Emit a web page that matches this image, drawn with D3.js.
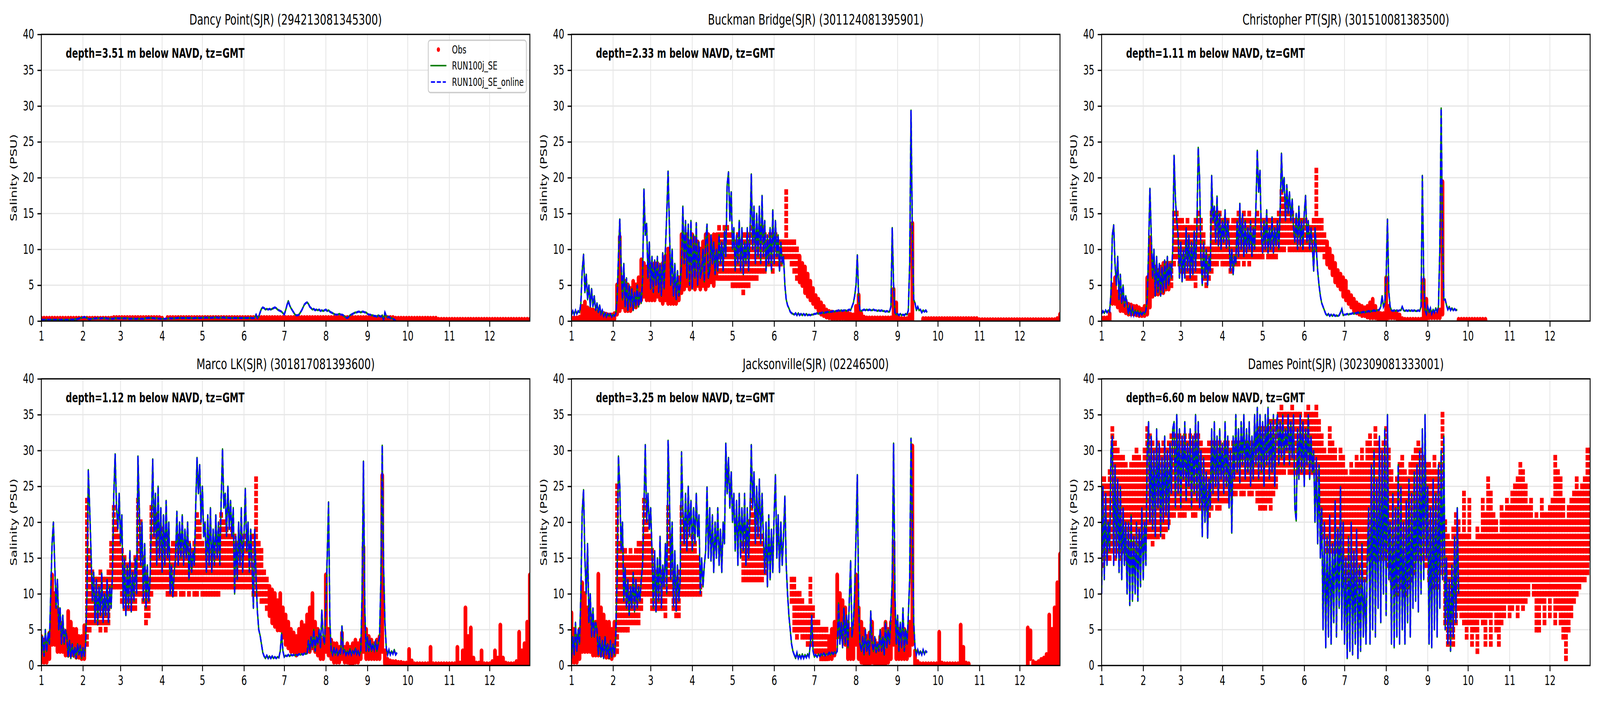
<!DOCTYPE html>
<html><head><meta charset="utf-8">
<script src="https://cdn.jsdelivr.net/npm/d3@7"></script>
<style>html,body{margin:0;padding:0;background:#fff;overflow:hidden}svg{display:block}</style>
</head><body><svg id="chart"></svg>
<script>
// ---------------- DATA ----------------
const stationTitles = ["Dancy Point(SJR) (294213081345300)","Buckman Bridge(SJR) (301124081395901)","Christopher PT(SJR) (301510081383500)",
  "Marco LK(SJR) (301817081393600)","Jacksonville(SJR) (02246500)","Dames Point(SJR) (302309081333001)"];
const depthLabels = ["depth=3.51 m below NAVD, tz=GMT","depth=2.33 m below NAVD, tz=GMT","depth=1.11 m below NAVD, tz=GMT",
  "depth=1.12 m below NAVD, tz=GMT","depth=3.25 m below NAVD, tz=GMT","depth=6.60 m below NAVD, tz=GMT"];
const monthLabels = ["1","2","3","4","5","6","7","8","9","10","11","12"];
const yTickValues = [0,5,10,15,20,25,30,35,40];
const legendLabels = ["Obs","RUN100j_SE","RUN100j_SE_online"];
const yLabel = "Salinity (PSU)";
const year = 2019;      // x axis: day of year, Jan 1 .. Dec 31
const obsStepDays = 2;  // obs envelope sampled every 2 days
// day ranges where the observations are recorded at whole-PSU resolution (rows of dots)
const obsIntegerPeriods = [[],[[110,168]],[[52,166]],[[34,168]],[[34,100],[126,190]],[[0,364]]];

// model salinity, daily from Jan 1 (alternating tidal lows/highs)
const model_dancy = [
0.15,0.2,0.15,0.2,0.15,0.2,0.15,0.2,0.15,0.2,
0.15,0.2,0.15,0.2,0.15,0.2,0.15,0.2,0.15,0.2,
0.15,0.2,0.2,0.2,0.2,0.25,0.25,0.3,0.35,0.4,
0.45,0.5,0.55,0.5,0.4,0.3,0.25,0.3,0.3,0.35,
0.35,0.4,0.35,0.4,0.35,0.4,0.4,0.35,0.4,0.35,
0.35,0.3,0.35,0.3,0.35,0.4,0.35,0.4,0.35,0.4,
0.4,0.35,0.4,0.35,0.4,0.35,0.3,0.35,0.3,0.35,
0.3,0.3,0.35,0.3,0.3,0.35,0.3,0.35,0.4,0.4,
0.45,0.4,0.45,0.4,0.4,0.35,0.4,0.35,0.35,0.3,
0.3,0.3,0.3,0.35,0.35,0.35,0.4,0.35,0.4,0.35,
0.4,0.4,0.45,0.4,0.45,0.4,0.45,0.4,0.4,0.45,
0.4,0.45,0.4,0.4,0.4,0.45,0.4,0.45,0.4,0.45,
0.45,0.5,0.45,0.5,0.45,0.5,0.45,0.45,0.5,0.45,
0.5,0.5,0.45,0.5,0.45,0.5,0.5,0.45,0.5,0.45,
0.45,0.4,0.45,0.4,0.45,0.4,0.45,0.4,0.45,0.4,
0.45,0.4,0.45,0.4,0.45,0.4,0.45,0.4,0.4,0.5,
0.9,0.4,0.6,1.2,1.7,1.9,1.8,1.6,1.7,1.6,
1.7,1.6,1.7,1.8,1.9,1.8,1.6,1.5,1.4,1.3,
1.1,0.9,1.5,2.2,2.8,2.2,1.8,1.5,1.2,0.9,
0.8,0.8,0.9,1.2,1.5,1.9,2.3,2.5,2.6,2.4,
2.0,1.8,1.6,1.7,1.5,1.6,1.5,1.6,1.4,1.5,
1.4,1.5,1.6,1.4,1.5,1.3,1.2,1.1,1.0,0.9,
0.9,0.9,1.0,0.9,0.9,0.8,0.6,0.5,0.4,0.6,
0.8,0.9,1.0,1.1,1.2,1.2,1.3,1.3,1.2,1.3,
1.3,1.2,1.2,1.0,0.9,0.9,0.8,0.8,0.7,0.7,
0.6,0.8,0.7,0.6,0.8,0.1,1.2,0.7,0.5,0.6,
0.4,0.4,0.3,0.2,0.05];
const model_buckman = [
0.8,1.4,0.9,1.5,1.0,1.4,1.2,2.5,7.0,9.3,
4.0,6.5,3.0,5.0,2.0,4.5,2.0,3.5,1.5,2.5,
1.2,2.2,1.0,1.5,0.7,1.1,0.6,1.0,0.7,1.0,
0.6,0.9,0.7,1.0,3.0,9.0,14.2,8.0,3.0,8.0,
2.0,6.0,1.5,5.0,2.0,4.5,1.5,4.0,2.0,5.0,
2.0,4.0,2.5,6.0,18.4,12.0,13.6,6.0,11.0,4.5,
9.0,4.0,8.5,5.0,9.0,4.0,8.0,3.5,9.5,4.5,
10.0,15.0,20.9,13.0,5.0,10.0,3.5,8.0,3.0,7.0,
3.5,5.0,8.0,16.0,8.0,14.0,6.0,13.5,5.0,14.0,
4.5,12.0,6.0,13.7,5.0,11.0,6.0,7.0,10.0,5.5,
11.0,13.5,6.0,7.0,12.0,8.0,11.0,6.5,10.0,7.0,
12.0,8.0,11.0,7.0,12.5,9.0,19.0,20.8,14.0,18.0,
10.0,13.0,7.0,12.0,8.0,14.0,7.0,13.0,6.5,11.0,
8.0,13.0,7.0,12.0,20.5,10.0,16.0,8.0,15.0,9.0,
16.0,8.0,17.5,9.0,14.0,7.0,12.0,8.0,13.0,7.0,
15.5,8.0,14.0,9.0,12.0,7.0,11.0,8.0,9.0,5.0,
3.0,2.2,1.8,1.3,1.1,1.0,0.9,1.1,0.8,1.1,
0.8,1.0,0.8,1.0,0.8,1.0,0.8,0.9,0.8,0.9,
0.9,1.0,1.0,1.1,1.0,1.1,1.1,1.2,1.1,1.2,
1.2,1.3,1.2,1.3,1.3,1.4,1.3,1.4,1.4,1.5,
1.4,1.5,1.4,1.5,1.5,1.4,1.5,1.6,1.5,2.0,
2.5,3.5,5.0,9.2,3.0,1.5,1.4,1.5,1.6,1.5,
1.6,1.5,1.6,1.5,1.5,1.6,1.5,1.5,1.4,1.5,
1.4,1.5,1.4,1.4,1.3,1.4,1.3,1.3,2.0,13.0,
5.0,1.2,0.9,1.0,0.8,1.0,0.8,0.9,0.8,1.0,
0.9,1.5,8.0,29.4,12.0,3.0,2.5,1.5,2.0,1.5,
1.6,1.2,1.5,1.3,1.5,1.2];
const model_christopher = [
1.0,1.4,1.1,1.5,1.2,1.5,1.3,4.0,12.0,13.4,
8.0,5.0,9.0,3.0,6.5,2.5,5.0,2.0,3.5,2.5,
1.0,2.0,0.9,1.8,0.8,1.5,0.9,1.4,0.8,1.3,
0.9,1.2,1.0,1.5,3.0,10.0,18.5,12.0,6.0,10.0,
3.5,9.0,4.0,8.0,3.5,7.5,4.0,8.5,4.5,9.0,
5.0,8.0,6.0,10.0,23.1,17.0,14.0,12.0,6.0,11.0,
5.5,10.0,6.0,13.0,7.0,12.0,6.0,11.0,6.5,12.5,
7.0,13.0,24.2,20.0,9.0,5.0,11.0,6.0,10.0,5.0,
9.0,7.0,20.3,14.0,16.0,11.0,17.4,10.5,15.0,10.0,
14.0,11.0,15.5,10.2,14.0,11.0,7.0,10.0,6.5,9.0,
8.0,14.0,9.0,16.4,10.0,15.0,9.0,14.0,9.5,13.0,
10.0,14.0,9.0,13.0,10.0,16.0,23.8,18.0,21.0,12.0,
9.5,14.0,10.0,15.5,9.5,13.0,10.0,14.5,9.5,13.0,
10.5,14.0,10.0,15.0,23.4,18.0,20.0,14.0,19.0,15.0,
18.0,14.0,17.0,13.0,11.0,15.0,10.0,16.0,10.5,14.0,
10.0,15.0,17.5,11.0,14.0,10.0,13.0,10.5,7.0,13.0,
10.0,7.0,5.0,3.5,2.5,2.0,1.5,1.0,0.8,1.0,
0.7,0.9,0.7,0.9,0.7,0.8,0.7,0.8,1.2,1.7,
0.8,0.9,0.9,1.0,0.9,1.0,1.0,1.1,1.0,1.1,
1.1,1.2,1.1,1.2,1.2,1.3,1.2,1.3,1.3,1.4,
1.3,1.4,1.4,1.5,1.4,1.5,1.5,1.6,2.0,3.5,
2.0,2.5,6.0,14.2,4.0,2.0,1.5,1.4,1.5,1.4,
1.5,1.4,1.5,1.5,2.0,1.5,1.4,1.5,1.4,1.5,
1.4,1.5,1.4,1.5,1.4,1.4,1.5,1.4,2.0,20.3,
6.0,1.5,1.0,2.0,1.2,1.8,1.0,1.6,1.2,1.8,
1.3,2.0,10.0,29.7,12.0,3.0,3.0,2.2,1.6,2.0,
1.5,1.8,1.5,1.7,1.5,1.6];
const model_marco = [
1.5,4.0,1.3,5.0,2.0,4.5,3.0,10.0,17.0,20.0,
14.0,8.0,12.0,5.0,8.0,3.0,7.0,3.0,5.0,4.0,
1.2,3.5,1.0,3.0,1.2,2.5,1.0,3.0,1.5,2.8,
1.0,2.5,1.3,3.0,10.0,27.3,22.0,16.0,9.0,13.0,
6.0,12.0,5.7,11.0,7.0,12.9,6.0,10.0,7.0,12.0,
6.0,11.0,8.0,13.0,24.0,29.5,22.0,19.0,24.0,17.0,
21.0,8.0,15.0,7.0,14.0,8.0,16.0,7.5,13.0,9.0,
15.0,10.0,29.2,22.0,14.0,20.0,9.0,17.0,8.0,14.0,
9.0,12.0,20.0,28.8,18.0,24.0,14.0,25.0,15.0,22.0,
13.0,21.0,14.0,23.0,15.0,20.0,10.0,14.0,9.6,13.0,
15.0,21.5,14.0,20.0,15.0,21.0,14.0,19.0,15.0,20.0,
12.0,17.0,13.0,16.0,14.0,22.0,29.0,24.0,28.0,20.0,
25.0,18.0,20.0,13.0,21.0,14.0,22.0,13.0,19.0,14.0,
21.0,15.0,20.0,14.0,23.0,30.2,22.0,24.0,18.0,25.0,
19.0,23.0,18.0,22.0,10.0,18.0,12.0,20.0,14.0,22.0,
13.0,18.0,24.7,16.0,20.0,13.0,19.0,14.0,8.0,19.0,
12.0,7.5,5.0,4.2,3.0,1.8,1.3,1.0,1.4,1.0,
1.3,1.0,1.3,1.0,1.2,1.0,1.2,1.1,2.0,4.5,
2.0,1.2,1.4,1.3,1.5,1.3,1.5,1.4,1.5,1.4,
1.5,1.4,1.6,1.5,1.6,1.5,1.7,1.6,1.7,3.5,
2.0,4.0,2.5,5.0,2.0,4.0,3.0,5.0,2.5,7.7,
4.0,3.0,8.0,15.0,22.8,6.0,2.0,1.5,2.5,1.5,
2.2,1.5,2.0,1.6,5.5,1.8,2.2,1.5,2.0,1.6,
2.3,1.5,2.0,1.7,2.4,1.6,2.0,1.5,2.0,10.0,
28.5,8.0,2.0,4.0,2.0,3.5,2.0,3.0,2.2,3.5,
2.0,3.0,4.0,12.0,30.7,14.0,6.0,2.5,1.5,2.2,
1.5,2.0,1.6,2.2,1.5,1.8];
const model_jacksonville = [
1.0,4.0,1.5,6.0,2.0,5.0,3.0,10.0,21.5,24.5,
15.0,10.0,17.0,6.0,10.0,4.0,8.0,4.0,6.0,5.0,
1.5,4.0,1.2,3.5,1.0,4.0,1.5,3.0,1.0,3.5,
1.2,3.0,1.5,4.0,12.0,29.2,25.0,16.0,20.0,9.0,
13.6,8.0,12.0,7.0,11.0,8.0,13.0,7.5,12.0,8.0,
11.0,9.0,12.0,14.0,22.0,30.8,20.0,24.0,19.0,22.0,
16.0,8.0,16.0,7.5,15.0,9.0,18.0,8.0,14.0,11.0,
17.0,10.0,31.4,24.0,12.0,20.0,8.2,16.0,7.6,14.0,
9.0,12.0,29.8,22.0,17.0,24.0,16.0,25.0,18.0,23.0,
16.0,22.0,17.0,24.0,18.0,21.0,10.0,15.0,11.0,14.0,
16.0,24.9,15.0,22.0,14.6,21.0,13.0,20.0,15.0,22.0,
14.0,19.0,13.0,20.0,17.0,31.0,24.0,29.0,22.0,27.0,
20.0,24.0,16.0,23.0,14.0,24.0,15.0,22.0,16.0,24.0,
14.0,22.0,15.0,21.0,30.8,22.0,27.0,17.0,25.0,18.0,
26.0,17.0,24.0,18.0,12.9,20.0,11.0,21.0,12.0,19.0,
13.0,21.0,26.6,15.0,21.0,13.0,20.0,14.0,18.0,23.6,
14.0,10.0,7.0,5.0,3.0,2.0,1.5,1.0,1.8,1.0,
1.5,1.0,1.6,1.0,1.5,1.1,1.6,1.2,3.0,7.0,
2.0,1.2,1.5,1.2,1.6,1.3,1.6,1.4,1.7,1.4,
1.6,1.5,1.8,1.5,1.8,1.6,1.9,1.7,2.0,8.7,
3.0,6.0,2.5,8.0,3.0,7.0,2.5,9.0,14.6,4.0,
6.0,10.0,18.0,26.6,8.0,3.0,2.0,4.0,1.5,5.0,
2.0,3.5,1.5,7.6,3.0,2.0,4.0,1.8,3.0,2.0,
5.0,2.0,4.0,1.5,6.0,2.5,5.0,3.0,7.0,12.0,
31.0,10.0,3.0,7.0,2.0,6.0,2.5,8.0,2.0,5.0,
3.0,7.0,12.0,31.7,20.0,6.0,2.5,1.5,2.2,1.6,
2.0,1.5,2.2,1.6,2.0,1.8];
const model_dames = [
10,25,12,24,14,20,16,30,32,14,
28,15,26,13,25,12,22,14,20,10,
20,8.4,21,9,18,10,20,9,19,11,
22,12,20,14,30,34,20,32,19,30,
18,33,22,31,18,29,20,32,21,30,
19,31,24,33,34,22,35,24,33,22,
32,26,34,23,31,25,33,22,32,24,
35,23,34,22,30,18,29,20,27,17.8,
26,22,33,24,34,25,32,23,33,26,
31,24,34,25,32,22,30,18.5,32,26,
35,27,33,25.5,34,28,35,26,33,27,
34,25,32,26,35,28,36,26,35,27,
34,25,35,28,36,26,34,27,35,25,
33,35,28,34,29,35,28,33,30,35,
28,34,29,35,22,20.2,33,26,35,27,
34,25,33,28,35,26,32,27,30,20,
29,17,28,15,22,5,20,2.5,18,4,
21,3,17,6,23,4,19,8,25,5,
20,3,15,1,18,2,20,1.5,16,3,
19,1,14,2,17,4,12,3,15,22,
3,28,5,30,4,26,8,32,6,30,
10,33,7,35,12,20,3,24,2.5,22,
4,28,3,25,5,20,3,23,6,26,
4,24,8,27,9,28,7.5,30,10,33,
12,35,15,25,3,22,2.5,26,5,24,
4,28,8,30,12,32,5,15,3,12,
2,14,4,18,6,22,10];

// observed salinity envelope (low / high of the dots), every 2 days from Jan 1; null = no data
const obsLo_dancy = [
0.05,0.05,0.05,0.05,0.05,0.05,0.05,0.05,0.05,0.05,
0.05,0.05,0.05,0.05,0.05,0.05,0.05,0.05,0.05,0.05,
0.05,0.05,0.05,0.05,0.05,0.05,0.05,0.05,0.05,0.05,
0.05,0.05,0.05,0.05,0.05,0.05,0.05,0.05,0.05,0.05,
0.05,0.05,0.05,0.05,0.05,0.05,0.05,0.05,0.05,0.05,
0.05,0.05,0.05,0.05,0.05,0.05,0.05,0.05,0.05,0.05,
0.05,0.05,0.05,0.05,0.05,0.05,0.05,0.05,0.05,0.05,
0.05,0.05,0.05,0.05,0.05,0.05,0.05,0.05,0.05,0.05,
0.05,0.05,0.05,0.05,0.05,0.05,0.05,0.05,0.05,0.05,
0.05,0.05,0.05,0.05,0.05,0.05,0.05,0.05,0.0,0.05,
0.05,0.05,0.05,0.05,0.05,0.05,0.05,0.05,0.05,0.05,
0.05,0.05,0.05,0.05,0.05,0.05,0.05,0.05,0.05,0.05,
0.05,0.05,0.05,0.05,0.05,0.05,0.05,0.05,0.05,0.05,
0.05,0.05,0.05,0.05,0.05,0.05,0.05,0.05,0.05,0.05,
0.05,0.05,0.05,0.05,0.05,0.05,0.05,0.05,0.05,0.05,
0.05,0.05,0.05,0.05,0.05,0.05,0.05,0.05,0.05,0.05,
0.05,0.05,0.05,0.05,0.05,0.05,0.05,0.05,0.05,0.05,
0.05,0.05,0.05,0.05,0.05,0.05,0.05,0.05,0.05,0.05,
0.05,0.05,0.05];
const obsHi_dancy = [
0.35,0.35,0.35,0.35,0.35,0.35,0.35,0.35,0.35,0.35,
0.35,0.35,0.35,0.35,0.35,0.35,0.35,0.35,0.35,0.35,
0.35,0.35,0.35,0.35,0.35,0.35,0.35,0.45,0.45,0.45,
0.45,0.45,0.45,0.45,0.45,0.45,0.45,0.45,0.45,0.45,
0.45,0.45,0.45,0.45,0.45,0.35,0.05,0.45,0.45,0.45,
0.45,0.45,0.45,0.45,0.45,0.45,0.45,0.45,0.45,0.45,
0.45,0.45,0.45,0.45,0.45,0.45,0.45,0.45,0.45,0.45,
0.45,0.45,0.45,0.45,0.45,0.45,0.45,0.45,0.45,0.45,
0.45,0.45,0.45,0.45,0.45,0.45,0.45,0.45,0.45,0.45,
0.45,0.45,0.45,0.45,0.45,0.45,0.45,0.45,0.45,0.45,
0.45,0.45,0.45,0.45,0.45,0.45,0.45,0.45,0.45,0.45,
0.45,0.45,0.45,0.45,0.45,0.45,0.45,0.45,0.45,0.45,
0.45,0.45,0.45,0.45,0.45,0.45,0.45,0.45,0.45,0.45,
0.45,0.45,0.35,0.35,0.35,0.35,0.35,0.35,0.35,0.35,
0.35,0.35,0.35,0.35,0.35,0.35,0.35,0.35,0.2,0.2,
0.2,0.2,0.2,0.2,0.2,0.2,0.2,0.2,0.2,0.2,
0.2,0.2,0.2,0.2,0.2,0.2,0.2,0.2,0.2,0.2,
0.2,0.2,0.2,0.2,0.2,0.2,0.2,0.2,0.2,0.2,
0.2,0.2,0.2];
const obsLo_buckman = [
0.1,0.1,0.1,0.1,0.2,0.3,0.3,0.3,0.3,0.3,
0.2,0.2,0.2,0.2,0.2,0.2,0.3,1,1.5,2,
1.5,1.5,1.5,2,2,2.5,3,3.5,3,3,
3,3,3.5,3,2.5,3,2.5,2.5,2.5,2.5,
3,4,4.5,5,4.5,5,4.5,5,4.5,5,
4.5,5,5.5,5,6,5.5,6,6,6,5.5,
5,5,5,4.5,4.2,4.5,5,5.5,6,6,
7,7,7,7.5,7.5,7,7.5,8,8,9,
9,9,8,7,6,5.5,5,4,3.5,3,
2.5,2,1.5,1,0.8,0.6,0.5,0.4,0.4,0.4,
0.4,0.4,0.4,0.3,0.2,0.1,0,0,0,0,
0,0,0,0,0,0,0,0,0,0,
0,0,0,0,0,0,0,0,null,null,
null,0.05,0.05,0.05,0.05,0.05,0.05,0.05,0.05,0.05,
0.05,0.05,0.05,0.05,0.05,0.05,0.05,0.05,0.05,0.05,
0.05,0.05,0.05,0.05,0.05,0.05,0.05,0.05,0.05,0.05,
0.05,0.05,0.05,0.05,0.05,0.05,0.05,0.05,0.05,0.05,
0.05,0.05,0.05,0.05,0.05,0.05,0.05,0.05,0.05,0.05,
0.05,0.05,0.05];
const obsHi_buckman = [
0.4,0.4,0.4,0.5,2,2.6,1.8,1.6,1.5,1.4,
1.2,1.1,1,0.9,0.8,0.8,1,5,11.7,6,
5.5,5,4.5,5.5,5,6,8.5,8,7.5,8,
7,8,8,7.5,8,9,10,6,5.5,5,
6,12,11,12,11,12,11.5,11,10,11,
12,12,11,12,12,13,12,13,13,12,
12,11,12,11,12,12,12,13,12,12,
12,12.5,12,11,11.5,11,11.5,11,11,11,
17.6,11,11,10.5,10,9,8,7.5,6.5,5.5,
4.5,3.5,3,2.5,2,1.5,1.3,1.2,1.1,1.2,
1.1,1,1.2,1.1,0.9,0.8,2,3.6,1,0.5,
0.4,0.4,0.4,0.4,0.4,0.4,0.4,0.4,0.4,0.4,
4.4,2.5,0.4,0.3,0.3,0.3,0.8,13.6,null,null,
null,0.3,0.3,0.3,0.3,0.3,0.3,0.3,0.3,0.3,
0.3,0.3,0.3,0.3,0.3,0.3,0.3,0.3,0.3,0.3,
0.3,0.3,0.15,0.15,0.15,0.15,0.15,0.15,0.15,0.15,
0.15,0.15,0.15,0.15,0.15,0.15,0.15,0.15,0.15,0.15,
0.15,0.15,0.15,0.15,0.15,0.15,0.15,0.15,0.15,0.15,
0.15,0.3,0.9];
const obsLo_christopher = [
0.1,0.1,0.1,0.2,2.5,2.5,2,1.5,1.5,1.2,
1,1,1,0.9,0.8,0.8,0.8,1,2,3.5,
3.8,3.8,4,4,4.5,4.5,5,8,9,8,
7,7,6,6,5.5,5,7,7,6,5,
5.5,7,8,8,9,8,8,7.5,7,7.5,
8,8,8.5,8,8.5,8,9,9,9,9,
9,9.5,9,9,8.8,9,9.5,10,10,11,
10,10,10,10,10,10,10,10,10,10,
10,10,10,9,8,7.5,6.5,5.5,5,4.5,
3.5,3,2.5,2,1.5,1.2,1,0.8,0.8,0.6,
0.5,0.5,0.5,0.3,0.3,0.2,0,0.5,0.5,0.5,
0.4,0.3,0,0,0,0,0,0,0,0,
0,0.3,0.5,0.5,0.5,0.5,0.5,1,null,null,
null,null,null,0,0,0,0,0,0,0,
0,0,0,0,null,null,null,null,null,null,
null,null,null,null,null,null,null,null,null,null,
null,null,null,null,null,null,null,null,null,null,
null,null,null,null,null,null,null,null,null,null,
null,null,null];
const obsHi_christopher = [
0.4,0.4,0.4,1,5,6,4,3.5,3,2.8,
2.3,2.2,2,2,1.8,1.6,2,6,11.6,8,
7.5,7,7.5,8,8,8,8,14.5,15,14,
14,13,14,13,13,14,15,14,12,10,
10,15,15,14.5,15,14,14,14,13,14,
14,15,14,14.5,14,15,14,14,14.5,14,
14,14,14,13.5,14,14,14.5,18,17,16,
15,15,14,14,14,14,13.5,13,13,14,
20.5,14,14,12,11,10,9,8,7,6.5,
6,5.5,4,3.5,3,2.5,2.2,2,1.8,2,
2.5,3,2,1.3,1,1,6,2,1.2,1.1,
1,0.8,0.3,0.2,0.2,0.2,0.2,0.2,0.2,0.2,
5.7,3,1.2,1.1,1,1,1.5,19.4,null,null,
null,null,null,0.2,0.2,0.2,0.2,0.2,0.2,0.2,
0.2,0.2,0.2,0.2,null,null,null,null,null,null,
null,null,null,null,null,null,null,null,null,null,
null,null,null,null,null,null,null,null,null,null,
null,null,null,null,null,null,null,null,null,null,
null,null,null];
const obsLo_marco = [
0.5,0.5,0.5,1,3,3,2,2,2,1.5,
1.5,1.5,1.5,1.2,1.2,1,1,3,5,5.5,
5.5,5.5,5,5.5,5,6,11,11,11,11,
9,7.5,7.5,8,7.5,8,10,10,9,6,
6.5,10,10.5,11,11,11,10.5,10,10,10,
10,10.5,10,10,10.5,10,10.5,10,10,10.5,
10,10,9.5,10,9.5,10,10,11,11,11,
11,11,11,11,11,11,11,11,11,10,
10,10,9,9,8,7,6,5.5,5,5,
4,3,2.5,2,2,1.5,2,2,2,2,
2,2.5,2,1.5,1,1,2,1.5,1,0.5,
0.5,0.5,1,0.5,0.5,0.3,0.3,0.5,0.5,1,
2,1,1,1,1,1,1,2,0.3,0.2,
0.2,0.1,0.1,0.1,0.1,0,0,0,0,0,
0,0,0,0,0,0,0,0,0,0,
0,0,0,0,0,0,0,0,0,0,
0,0,0,0,0,0,0,0,0,0,
0,0,0,0,0,0,0,0,0,0,
0,0,0];
const obsHi_marco = [
4,3.5,3,4.5,12.6,10,8,6,5,4.5,
7.5,6,5,5,4,4,5.5,22.5,16,13,
12,12,13,12,12,12.5,17,22,20,18,
16,15,14,14,14,15,22.5,20,15,13,
12,22,20,21,19,19,18,18,16,17,
17,18,17,16,17,17,16,17,20.5,20,
17,16,17,16,16,17,17,20.5,20,19,
18,19,18,17,17,18,18,17,17,18,
25.5,17,16,13,12,11,10.5,10,9,10,
8,7,6,5,4.5,4,5,6,5.5,7,
8,10,6,5,4,3.5,12.6,5,3.5,3,
3,2.5,4.5,2.5,3,2.5,3,3.5,3,3.5,
16.5,5,4,3.5,3,3.5,4,26.5,2,0.8,
0.6,0.5,0.5,0.4,0.4,0.3,0.3,2.2,0.6,0.2,
0.2,0.2,0.2,0.2,0.2,2.5,0.2,0.2,0.2,0.2,
0.2,0.2,0.2,0.2,0.2,2.5,0.3,2,8,4,
5.2,1,0.3,0.3,2,0.2,0.2,0.2,0.5,2,
1,5.6,1,0.3,0.2,0.2,0.2,0.5,4.6,2,
3,6,12.6];
const obsLo_jacksonville = [
0.5,0.5,0.5,1,2,2,2,2,1.5,1.5,
1.5,1.5,1.5,1.2,1.2,1,1.5,2,5,5,
5,5,5.5,6,6,6,8,10,10,10,
8,7.5,7.5,7.5,7.5,7,10,10,8,7,
7,10,10,10,10,10,10,10,9.5,null,
null,null,null,null,null,null,null,null,null,null,
null,null,null,null,12,12,12,12,12,12,
12,12,13,null,null,null,null,null,null,null,
null,null,9,5,4,5,4,3.5,3,3,
2.5,2,1.5,1,1,1,1,1,1.5,4,
4,4,3,1,1,1,3,1,0.5,0.3,
0.3,0,0.5,0.3,0,0.3,0.3,0.3,0.5,1,
3,1,1,1,1,1,1.5,3,0.2,0.1,
0,0,0,0,0,0,0,0,0,0,
0,0,0,0,0,0,0,0,0,null,
null,null,null,null,null,null,null,null,null,null,
null,null,null,null,null,null,null,null,null,null,
0,1,0,0,0,0,0,0,0,0,
0,0,0];
const obsHi_jacksonville = [
7.3,5,4,5,11.5,10,8,7,6,6,
12.7,8,7,6,6,5,6,24.6,17,16,
16,15,16,15,16,17,17,22.6,20,18,
16,13,12,12,13,12,21.6,18,13,12,
13,21.6,19,20,17,18,17,15,11,null,
null,null,null,null,null,null,null,null,null,null,
null,null,null,null,17,19,20,22.6,21,20,
19,18,16,null,null,null,null,null,null,null,
null,null,12,12,10,10,9,8,7.5,12,
8,6,6,5,5,4.5,4,5,6,12.6,
10,9,8,6,5,5.5,12.6,8,6,5,
4,4.5,6,3.5,3,4,5,6,5,6,
17.2,6,5,4.5,5,4.5,6,30.6,2,0.5,
0.2,0.2,0.2,0.2,0.2,0.2,0.2,4.6,0.3,0.2,
0.2,0.2,0.2,0.2,0.2,5.6,2.5,0.3,0.2,null,
null,null,null,null,null,null,null,null,null,null,
null,null,null,null,null,null,null,null,null,null,
5.2,4.8,0.5,0.3,0.5,0.8,1,1.5,7,5,
8,11.5,15.5];
const obsLo_dames = [
14,15,16,15,16,15,16,15,16,15,
15,16,15,16,16,17,18,18,18,17,
18,18,19,18,19,20,21,21,22,21,
21,21,22,22,21,21,22,22,22,22,
21,22,23,22,22,23,23,23,24,24,
24,25,24,24,25,24,24,25,23,22,
22,22,23,22,24,25,27,27,27,28,
27,27,27,27,27,27,27,27,27,27,
27,26,20,18,16,17,16,17,16,18,
15,12,11,10,11,12,11,12,12,15,
16,15,16,15,16,15,17,14,12,11,
10,11,12,10,11,12,13,15,16,15,
15,14,12,11,12,11,13,25,6,3,
5,3,6,8,7,6,4,6,3,5,
2,7,6,3,7,3,8,5,3,6,
7,9,7,8,9,7,9,8,9,10,
12,10,5,5,9,6,10,7,10,6,
8,6,4,1,5,7,9,10,11,12,
12,13,15];
const obsHi_dames = [
26,26,25,27,33,31,30,29,29,28,
27,28,29,30,29,28,30,33,32,31,
30,31,30,31,30,31,32,32,31,32,
31,32,31,32,31,32,32,31,30,30,
31,31,31,30,31,30,31,31,30,31,
31,30,31,30,31,31,30,31,32,33,
33,32,33,34,34,34,35,36,35,35,
35,36,35,35,35,34,35,36,35,35,
36,34,32,30,29,33,31,30,28,30,
29,27,26,28,27,29,28,30,28,31,
32,30,33,31,30,31,33,30,27,25,
26,28,29,27,26,28,29,30,31,30,
29,28,28,27,29,27,28,35,20,18,
17,19,21,20,18,24,18,23,17,17,
19,18,23,21,26,24,21,20,18,22,
21,23,22,24,25,26,28,27,25,22,
23,20,21,20,23,21,21,22,23,29,
27,26,23,20,22,23,24,26,24,25,
26,30,30];

const models = [model_dancy,model_buckman,model_christopher,model_marco,model_jacksonville,model_dames];
const obsLows = [obsLo_dancy,obsLo_buckman,obsLo_christopher,obsLo_marco,obsLo_jacksonville,obsLo_dames];
const obsHighs = [obsHi_dancy,obsHi_buckman,obsHi_christopher,obsHi_marco,obsHi_jacksonville,obsHi_dames];

// ---------------- LAYOUT / STYLE ----------------
const W=6000,H=1800;
const colLeft=[155,2143,4131], rowTop=[88,970], PW=1832, PH=734;
const FONT='"DejaVu Sans", sans-serif';
const LW=4.17, MLW=5.2, SPINE=3.3, TICK=14.6, DOT=14;
const DAY=86400000, base=Date.UTC(year,0,1);
const toDate=d=>new Date(base+d*DAY);

const x=d3.scaleUtc().domain([toDate(0),new Date(Date.UTC(year,11,31))]).range([0,PW]);
const y=d3.scaleLinear().domain([0,40]).range([PH,0]);
const monthStarts=d3.utcMonths(new Date(Date.UTC(year,0,1)),new Date(Date.UTC(year+1,0,1)));
const rowStep=y(0)-y(1);
const ROWH=14.3;   // height of one row of dots

// fit the 6000x1800 drawing to the actual viewport
const vw=window.innerWidth||W, vh=window.innerHeight||H;
const svg=d3.select("#chart").attr("width",vw).attr("height",vh)
  .attr("viewBox",`0 0 ${W} ${H}`).attr("preserveAspectRatio","none");
svg.append("rect").attr("width",W).attr("height",H).attr("fill","#fff");

stationTitles.forEach((title,k)=>{
  const col=k%3,row=Math.floor(k/3);
  const g=svg.append("g").attr("transform",`translate(${colLeft[col]},${rowTop[row]})`);
  const cid="clip"+k;
  g.append("clipPath").attr("id",cid).append("rect").attr("width",PW).attr("height",PH);

  g.append("g").selectAll("line").data(monthStarts).join("line")
    .attr("x1",d=>x(d)).attr("x2",d=>x(d)).attr("y1",0).attr("y2",PH)
    .attr("stroke","#e6e6e6").attr("stroke-width",3);
  g.append("g").selectAll("line").data(yTickValues).join("line")
    .attr("x1",0).attr("x2",PW).attr("y1",d=>y(d)).attr("y2",d=>y(d))
    .attr("stroke","#e6e6e6").attr("stroke-width",3);

  const plot=g.append("g").attr("clip-path",`url(#${cid})`);
  const lo=obsLows[k], hi=obsHighs[k];
  const isInt=d=>obsIntegerPeriods[k].some(([a,b])=>d>=a&&d<=b);
  const idx=lo.map((v,i)=>i).filter(i=>lo[i]!==null && hi[i]!==null);
  // continuous-resolution observations: solid vertical run of dots
  plot.append("g").selectAll("line").data(idx.filter(i=>!isInt(i*obsStepDays))).join("line")
    .attr("x1",i=>x(toDate(i*obsStepDays))).attr("x2",i=>x(toDate(i*obsStepDays)))
    .attr("y1",i=>y(lo[i])).attr("y2",i=>y(hi[i]))
    .attr("stroke","#ff0000").attr("stroke-width",DOT).attr("stroke-linecap","round");
  // whole-PSU observations: one row of dots per integer value
  plot.append("g").selectAll("line").data(idx.filter(i=>isInt(i*obsStepDays))).join("line")
    .attr("x1",i=>x(toDate(i*obsStepDays))).attr("x2",i=>x(toDate(i*obsStepDays)))
    .attr("y1",i=>y(Math.round(lo[i]))+ROWH/2).attr("y2",i=>y(Math.round(hi[i]))-ROWH/2)
    .attr("stroke","#ff0000").attr("stroke-width",DOT).attr("stroke-linecap","butt")
    .attr("stroke-dasharray",`${ROWH},${rowStep-ROWH}`);

  const line=d3.line().x((v,i)=>x(toDate(i))).y(v=>y(v));
  plot.append("path").attr("d",line(models[k])).attr("fill","none")
    .attr("stroke","#008000").attr("stroke-width",MLW).attr("stroke-linejoin","round");
  plot.append("path").attr("d",line(models[k])).attr("fill","none")
    .attr("stroke","#0000ff").attr("stroke-width",MLW).attr("stroke-dasharray","15.4,6.7");

  g.append("rect").attr("width",PW).attr("height",PH).attr("fill","none")
    .attr("stroke","#000").attr("stroke-width",SPINE);

  const gx=g.append("g").attr("transform",`translate(0,${PH})`)
    .call(d3.axisBottom(x).tickValues(monthStarts).tickFormat((d,i)=>monthLabels[i])
      .tickSize(TICK).tickSizeOuter(0).tickPadding(12));
  gx.select(".domain").remove();
  gx.attr("font-size",33).attr("font-family",FONT);
  gx.selectAll("line").attr("stroke-width",SPINE);
  gx.selectAll("text").attr("fill","#000");

  const gy=g.append("g")
    .call(d3.axisLeft(y).tickValues(yTickValues).tickFormat(d=>String(d))
      .tickSize(TICK).tickSizeOuter(0).tickPadding(12.4));
  gy.select(".domain").remove();
  gy.attr("font-size",33).attr("font-family",FONT);
  gy.selectAll("line").attr("stroke-width",SPINE);
  gy.selectAll("text").attr("fill","#000");

  g.append("text").attr("x",PW/2).attr("y",-25).attr("text-anchor","middle")
    .attr("font-family",FONT).attr("font-size",38).attr("fill","#000").text(title);
  g.append("text").attr("transform",`translate(-92,${PH/2}) rotate(-90)`).attr("text-anchor","middle")
    .attr("font-family",FONT).attr("font-size",33).attr("fill","#000").text(yLabel);
  g.append("text").attr("x",PW*0.05).attr("y",60)
    .attr("font-family",FONT).attr("font-size",33).attr("font-weight","bold").attr("fill","#000").text(depthLabels[k]);

  if(k===0){
    const lg=g.append("g").attr("transform","translate(1451,15)");
    lg.append("rect").attr("width",368).attr("height",134).attr("rx",8)
      .attr("fill","#fff").attr("fill-opacity",0.8).attr("stroke","#cccccc").attr("stroke-width",SPINE);
    const rows=[24,65,107];
    lg.append("circle").attr("cx",38).attr("cy",rows[0]).attr("r",6).attr("fill","#ff0000");
    lg.append("line").attr("x1",8).attr("x2",68).attr("y1",rows[1]).attr("y2",rows[1])
      .attr("stroke","#008000").attr("stroke-width",LW);
    lg.append("line").attr("x1",10).attr("x2",66).attr("y1",rows[2]).attr("y2",rows[2])
      .attr("stroke","#0000ff").attr("stroke-width",LW).attr("stroke-dasharray","15.4,6.7");
    lg.selectAll("text.lab").data(legendLabels).join("text").attr("class","lab")
      .attr("x",89).attr("y",(d,i)=>rows[i]).attr("dy","0.35em")
      .attr("font-family",FONT).attr("font-size",27.8).attr("fill","#000").text(d=>d);
  }
});
</script></body></html>
